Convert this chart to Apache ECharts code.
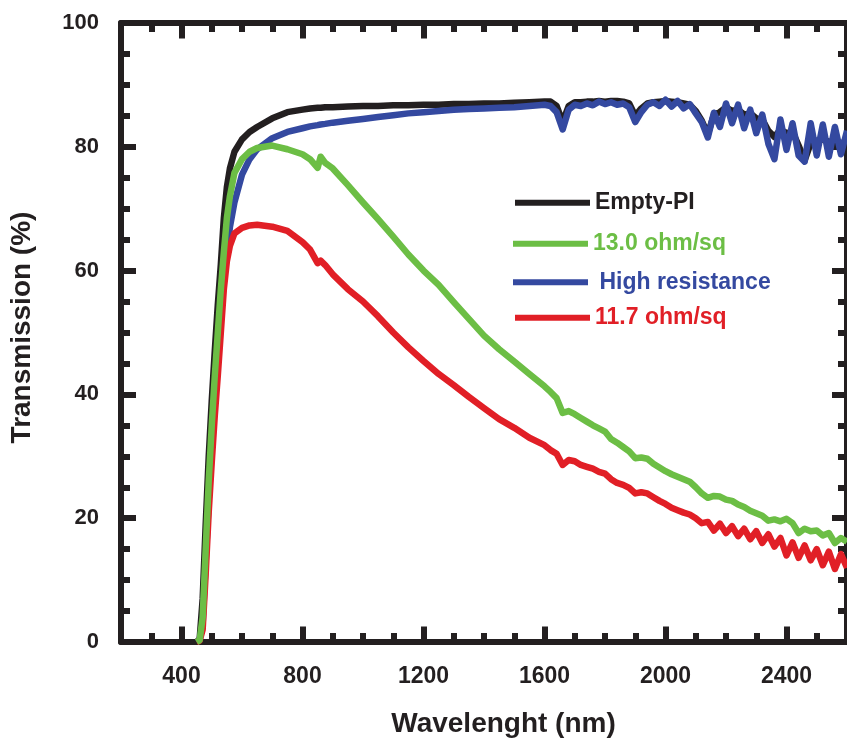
<!DOCTYPE html>
<html>
<head>
<meta charset="utf-8">
<script src="https://cdn.jsdelivr.net/npm/echarts@6/dist/echarts.min.js"></script>
<style>
html,body{margin:0;padding:0;background:#fff;}
#chart{width:847px;height:743px;}
</style>
</head>
<body>
<div id="chart"></div>
<script>
// Wavelength (nm)
const wavelength = [450,460,470,480,490,500,510,520,530,540,550,560,575,600,625,650,700,750,800,825,850,860,875,900,950,1000,1050,1100,1150,1200,1250,1300,1350,1400,1450,1500,1550,
1600,1620,1640,1660,1680,1700,1720,1740,1760,1780,1800,1820,1840,1860,1880,1900,1920,1940,1960,1980,2000,2020,2040,2060,2080,2100,2120,2140,2160,2180,2200,2220,2240,2260,2280,2300,2320,2340,2360,2380,2400,2420,2440,2460,2480,2500,2520,2540,2560,2580,2600];

const emptyPI = [0,0.5,7,19,30,39,47,54.5,61,68.5,73.5,76.5,79.2,81.2,82.4,83.2,84.6,85.6,86.0,86.2,86.3,86.3,86.4,86.4,86.5,86.6,86.6,86.7,86.7,86.8,86.8,86.9,86.9,87.0,87.0,87.1,87.2,
87.3,87.3,86.6,84.0,86.6,87.2,87.2,87.3,87.3,87.4,87.3,87.4,87.4,87.3,87.0,85.0,86.2,87.0,87.2,87.3,87.4,87.3,87.2,87.0,86.8,85.8,84.2,82.0,85.2,85.6,86.4,85.8,86.0,85.2,85.4,84.6,84.4,82.6,81.6,82.8,82.2,82.4,80.2,77.8,80.6,81.0,81.2,80.8,81.0,80.6,80.8];

const ohm130 = [0,0.3,4,15,26,35,43,50,57,63,68.5,72,75.8,78,79.2,79.8,80.2,79.6,78.8,78.0,76.6,78.4,77.4,76.5,73.8,71.0,68.3,65.5,62.6,60.0,57.7,54.9,52.2,49.5,47.3,45.3,43.3,
41.3,40.4,39.4,37.0,37.3,36.8,36.2,35.6,35.0,34.5,34.0,32.8,32.2,31.5,30.8,29.7,29.8,29.6,28.8,28.2,27.6,27.1,26.7,26.3,25.9,25.0,24.0,23.3,23.6,23.5,23.0,22.8,22.2,21.8,21.2,20.8,20.4,19.6,19.8,19.5,19.9,19.2,17.6,18.3,17.9,18.0,17.2,17.6,16.0,16.8,16.2];

const highRes = [0,0.3,3,13,23,32,40,47,53,58.5,63,67,71,75.5,78,79.6,81.4,82.4,83.0,83.3,83.5,83.6,83.7,83.9,84.2,84.5,84.8,85.1,85.4,85.6,85.8,86.0,86.1,86.2,86.3,86.4,86.6,
86.8,86.6,85.6,82.8,86.0,86.8,86.6,87.0,86.7,87.3,86.9,87.2,86.8,87.0,86.4,84.0,85.6,86.8,87.2,86.6,87.6,86.5,87.4,86.2,86.9,85.4,84.0,81.5,85.5,83.2,87.0,83.8,86.8,83.0,86.0,82.2,85.2,80.5,78.0,84.4,79.5,83.8,78.6,77.6,83.8,78.6,83.6,78.4,83.2,78.8,82.6];

const ohm117 = [0,0.2,2,11,21,29,36.5,43,50,57,61.5,64,66,66.9,67.3,67.4,67.1,66.4,64.6,63.4,61.2,61.6,60.9,59.4,57.0,55.0,52.6,50.0,47.6,45.4,43.3,41.5,39.6,37.8,36.0,34.6,33.0,
31.8,31.0,30.4,28.6,29.4,29.2,28.6,28.3,28.0,27.5,27.2,26.3,25.7,25.4,24.9,24.0,24.2,24.0,23.4,22.8,22.3,21.7,21.3,20.9,20.6,20.0,19.2,19.4,18.0,19.1,17.6,18.7,17.1,18.3,16.6,17.9,16.0,17.4,15.4,16.8,14.0,16.1,13.6,15.6,13.2,15.0,12.4,14.6,11.8,14.2,12.0];

const xMajorTicks = [400,800,1200,1600,2000,2400];
const seriesNames = ['Empty-PI','13.0 ohm/sq','High resistance','11.7 ohm/sq'];
const seriesColors = ['#231f20','#6cbe45','#3449a0','#e11f26'];

const C = '#231f20';
const FONT = 'Liberation Sans, Arial, Helvetica, sans-serif';

function pairs(vals){ return wavelength.map((w,i)=>[w, vals[i]]); }

const chart = echarts.init(document.getElementById('chart'), null, {renderer:'canvas'});

function xAx(pos, major, labels){
  const a = {
    type:'value', position:pos, min:200, max:2600,
    splitLine:{show:false},
    axisLine:{show:!major, onZero:false, lineStyle:{color:C, width:6}},
    axisTick:{inside:true, length: major?15.5:9, lineStyle:{color:C, width:6}},
    axisLabel:{show:false}
  };
  if (major){ a.axisTick.customValues = xMajorTicks; }
  else { a.interval = 100; }
  if (labels){
    a.axisLabel = {show:true, customValues:xMajorTicks, margin:23, color:C, fontSize:23, fontWeight:'bold', fontFamily:FONT,
      formatter: v => String(v)};
    a.name = 'Wavelenght (nm)';
    a.nameLocation = 'middle';
    a.nameGap = 68;
    a.nameTextStyle = {color:C, fontSize:28, fontWeight:'bold', fontFamily:FONT, padding:[0,0,0,39]};
  }
  return a;
}

function yAx(pos, labels){
  const a = {
    type:'value', position:pos, min:0, max:100, interval:20,
    splitLine:{show:false},
    axisLine:{show:true, onZero:false, lineStyle:{color:C, width:6}},
    axisTick:{inside:true, length:15, lineStyle:{color:C, width:6}},
    minorTick:{show:true, splitNumber:4, length:9, lineStyle:{color:C, width:6}},
    axisLabel:{show:labels, margin:22, color:C, fontSize:22, fontWeight:'bold', fontFamily:FONT, formatter: v => String(v)}
  };
  if (labels){
    a.name = 'Transmission (%)';
    a.nameLocation = 'middle';
    a.nameGap = 85;
    a.nameTextStyle = {color:C, fontSize:28, fontWeight:'bold', fontFamily:FONT, padding:[0,0,0,10]};
  }
  return a;
}

const legendRows = [202.7, 243.7, 282.3, 317.7];
const legendLeft = [515, 513, 513, 515];

const order = [0,2,3,1]; // drawing order: black, blue, red, green
const series = order.map((k, j) => ({
  name: seriesNames[k],
  type:'line',
  data: pairs([emptyPI, ohm130, highRes, ohm117][k]),
  showSymbol:false,
  symbol:'none',
  smooth:false,
  z: 2 + j,
  lineStyle:{color:seriesColors[k], width:6.5, join:'round'},
  itemStyle:{color:seriesColors[k]},
  emphasis:{disabled:true}
}));

chart.setOption({
  animation:false,
  backgroundColor:'#ffffff',
  grid:{left:121, top:23, width:733, height:619, containLabel:false},
  xAxis:[xAx('bottom', false, true), xAx('bottom', true, false), xAx('top', false, false), xAx('top', true, false)],
  yAxis:[yAx('left', true), yAx('right', false)],
  legend: seriesNames.map((n, i) => ({
    data:[{name:n, textStyle:{color:seriesColors[i]}}],
    left: legendLeft[i],
    top: legendRows[i] - 12,
    padding:0,
    icon:'rect',
    itemWidth:75,
    itemHeight:6,
    selectedMode:false,
    formatter: name => name === 'High resistance' ? ' ' + name : name,
    textStyle:{fontSize:23, fontWeight:'bold', fontFamily:FONT, lineHeight:24}
  })),
  series: series
});
</script>
</body>
</html>
